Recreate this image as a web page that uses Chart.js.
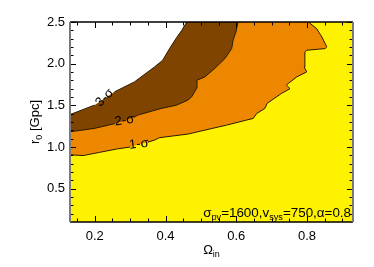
<!DOCTYPE html>
<html><head><meta charset="utf-8">
<script src="https://cdn.jsdelivr.net/npm/chart.js@4/dist/chart.umd.min.js"></script>
<style>html,body{margin:0;padding:0;background:#fff}#wrap{width:374px;height:267px}</style>
</head><body><div id="wrap"><canvas id="c" width="374" height="267"></canvas></div>
<script>
// axis limits and ticks
const xMin = 0.13, xMax = 0.93, yMin = 0.1, yMax = 2.5;
const xMajorTicks = [0.2, 0.4, 0.6, 0.8];
const xMinorTicks = [0.15, 0.25, 0.3, 0.35, 0.45, 0.5, 0.55, 0.65, 0.7, 0.75, 0.85, 0.9];
const yMajorTicks = [0.5, 1.0, 1.5, 2.0, 2.5];
const yMinorTicks = [0.2, 0.3, 0.4, 0.6, 0.7, 0.8, 0.9, 1.1, 1.2, 1.3, 1.4, 1.6, 1.7, 1.8, 1.9, 2.1, 2.2, 2.3, 2.4];

// 1-sigma contour (orange above, yellow below)
const sigma1Omega = [0.13, 0.167, 0.214, 0.261, 0.30, 0.324, 0.35, 0.369, 0.383, 0.463, 0.573, 0.629, 0.648, 0.658, 0.681, 0.687, 0.728, 0.752, 0.742, 0.747, 0.771, 0.799, 0.792, 0.794, 0.794, 0.799, 0.851, 0.856, 0.842, 0.827, 0.804];
const sigma1R0    = [0.907, 0.897, 0.936, 0.975, 1.0, 1.03, 1.058, 1.083, 1.112, 1.155, 1.263, 1.323, 1.343, 1.403, 1.463, 1.523, 1.643, 1.700, 1.742, 1.762, 1.841, 1.901, 1.961, 2.021, 2.141, 2.161, 2.181, 2.201, 2.320, 2.421, 2.5];
// 2-sigma contour (brown above)
const sigma2Omega = [0.13, 0.199, 0.257, 0.31, 0.322, 0.388, 0.431, 0.463, 0.474, 0.488, 0.489, 0.511, 0.539, 0.568, 0.587, 0.591, 0.599, 0.605];
const sigma2R0    = [1.183, 1.223, 1.281, 1.355, 1.383, 1.463, 1.502, 1.562, 1.602, 1.706, 1.802, 1.841, 1.942, 2.062, 2.181, 2.281, 2.380, 2.5];
// 3-sigma contour (white above)
const sigma3Omega = [0.13, 0.199, 0.256, 0.312, 0.369, 0.392, 0.412, 0.432, 0.446, 0.46];
const sigma3R0    = [1.389, 1.502, 1.662, 1.781, 1.961, 2.041, 2.185, 2.317, 2.40, 2.5];

const FONT = "'Liberation Sans', Arial, Helvetica, sans-serif";
const LINE = '#2a1a00';
const MAIN = 13, SUB = 9;

const pts = (xs, ys) => xs.map((x, i) => ({x, y: ys[i]}));
function region(xs, ys) {
  const p = pts(xs, ys);
  p.push({x: xMin, y: yMax});
  return p;
}
const fullRect = [{x: xMin, y: yMin}, {x: xMax, y: yMin}, {x: xMax, y: yMax}, {x: xMin, y: yMax}];

function area(label, data, color, order) {
  return {label, data, order, fill: 'shape', backgroundColor: color,
    borderColor: 'rgba(0,0,0,0)', borderWidth: 0, pointRadius: 0, tension: 0};
}
function contour(label, xs, ys, gap) {
  return {label, data: pts(xs, ys), order: 0, fill: false, borderColor: LINE, borderWidth: 1,
    pointRadius: 0, tension: 0,
    segment: {borderColor: c => (c.p0.parsed.x >= gap[0] - 1e-9 && c.p1.parsed.x <= gap[1] + 1e-9) ? 'rgba(0,0,0,0)' : undefined}};
}

function drawSub(ctx, parts, x, y, m, s) {
  for (const [t, sub] of parts) {
    ctx.font = (sub ? s : m) + 'px ' + FONT;
    ctx.fillText(t, x, y + (sub ? 3 : 0));
    x += ctx.measureText(t).width;
  }
  return x;
}
function widthSub(ctx, parts, m, s) {
  let w = 0;
  for (const [t, sub] of parts) { ctx.font = (sub ? s : m) + 'px ' + FONT; w += ctx.measureText(t).width; }
  return w;
}

const decor = {
  id: 'decor',
  afterDraw(chart) {
    const {ctx, chartArea: a} = chart;
    const x = chart.scales.x, y = chart.scales.y;
    ctx.save();
    ctx.lineWidth = 1; ctx.strokeStyle = '#000';
    const tick = (vals, len, horiz) => {
      vals.forEach(v => {
        ctx.beginPath();
        if (horiz) {
          const p = Math.round(x.getPixelForValue(v)) + 0.5;
          ctx.moveTo(p, a.bottom); ctx.lineTo(p, a.bottom - len);
          ctx.moveTo(p, a.top); ctx.lineTo(p, a.top + len);
        } else {
          const p = Math.round(y.getPixelForValue(v)) + 0.5;
          ctx.moveTo(a.left, p); ctx.lineTo(a.left + len, p);
          ctx.moveTo(a.right, p); ctx.lineTo(a.right - len, p);
        }
        ctx.stroke();
      });
    };
    tick(xMajorTicks, 6, true); tick(xMinorTicks, 3.5, true);
    tick(yMajorTicks, 6, false); tick(yMinorTicks, 3.5, false);
    // frame
    ctx.lineWidth = 1.5; ctx.strokeStyle = '#000';
    ctx.beginPath(); ctx.moveTo(a.left, a.top); ctx.lineTo(a.right, a.top);
    ctx.moveTo(a.left, a.bottom); ctx.lineTo(a.right, a.bottom); ctx.stroke();
    ctx.lineWidth = 2; ctx.strokeStyle = '#7a7a7a';
    ctx.beginPath(); ctx.moveTo(a.left, a.top); ctx.lineTo(a.left, a.bottom);
    ctx.moveTo(a.right, a.top); ctx.lineTo(a.right, a.bottom); ctx.stroke();

    ctx.fillStyle = '#000';
    const lab = (t, vx, vy, ang) => {
      ctx.save();
      ctx.translate(x.getPixelForValue(vx), y.getPixelForValue(vy));
      ctx.rotate(ang * Math.PI / 180);
      ctx.font = MAIN + 'px ' + FONT; ctx.textAlign = 'center'; ctx.textBaseline = 'middle';
      ctx.fillText(t, 0, 0);
      ctx.restore();
    };
    lab('3-σ', 0.228, 1.59, -45);
    lab('2-σ', 0.284, 1.318, -8);
    lab('1-σ', 0.325, 1.035, -6);

    ctx.textAlign = 'left'; ctx.textBaseline = 'alphabetic';
    const ann = [['σ', 0], ['pv', 1], ['=1600,v', 0], ['sys', 1], ['=750,α=0.8', 0]];
    const aw = widthSub(ctx, ann, 13.4, 9.2);
    drawSub(ctx, ann, a.right - 2 - aw, a.bottom - 5, 13.4, 9.2);

    const xt = [['Ω', 0], ['in', 1]];
    const xw = widthSub(ctx, xt, MAIN, SUB);
    drawSub(ctx, xt, (a.left + a.right) / 2 - xw / 2, 254, MAIN, SUB);

    ctx.save();
    ctx.translate(39, (a.top + a.bottom) / 2);
    ctx.rotate(-Math.PI / 2);
    const yt = [['r', 0], ['0', 1], [' [Gpc]', 0]];
    const yw = widthSub(ctx, yt, MAIN, SUB);
    drawSub(ctx, yt, -yw / 2, 0, MAIN, SUB);
    ctx.restore();
    ctx.restore();
  }
};

new Chart(document.getElementById('c'), {
  type: 'line',
  data: {
    datasets: [
      contour('3-sigma', sigma3Omega, sigma3R0, [0.199, 0.256]),
      contour('2-sigma', sigma2Omega, sigma2R0, [0.257, 0.31]),
      contour('1-sigma', sigma1Omega, sigma1R0, [0.30, 0.35]),
      area('above 3-sigma', region(sigma3Omega, sigma3R0), '#ffffff', 1),
      area('2-3 sigma', region(sigma2Omega, sigma2R0), '#7f4500', 2),
      area('1-2 sigma', region(sigma1Omega, sigma1R0), '#ee8700', 3),
      area('below 1-sigma', fullRect, '#fff200', 4)
    ]
  },
  options: {
    responsive: false, animation: false, devicePixelRatio: 1,
    layout: {padding: {left: 0, right: 21, top: 22, bottom: 0}},
    plugins: {legend: {display: false}, tooltip: {enabled: false}},
    scales: {
      x: {type: 'linear', min: xMin, max: xMax,
        grid: {display: false, drawTicks: false}, border: {display: false},
        afterBuildTicks: s => { s.ticks = xMajorTicks.map(v => ({value: v})); },
        afterFit: s => { s.height = 45; },
        ticks: {padding: 7, color: '#000', font: {family: FONT, size: MAIN}, maxRotation: 0,
          callback: v => Number(v).toFixed(1)}},
      y: {type: 'linear', min: yMin, max: yMax,
        grid: {display: false, drawTicks: false}, border: {display: false},
        afterBuildTicks: s => { s.ticks = yMajorTicks.map(v => ({value: v})); },
        afterFit: s => { s.width = 70; },
        ticks: {padding: 5, color: '#000', font: {family: FONT, size: MAIN},
          callback: v => Number(v).toFixed(1)}}
    }
  },
  plugins: [decor]
});
</script></body></html>
